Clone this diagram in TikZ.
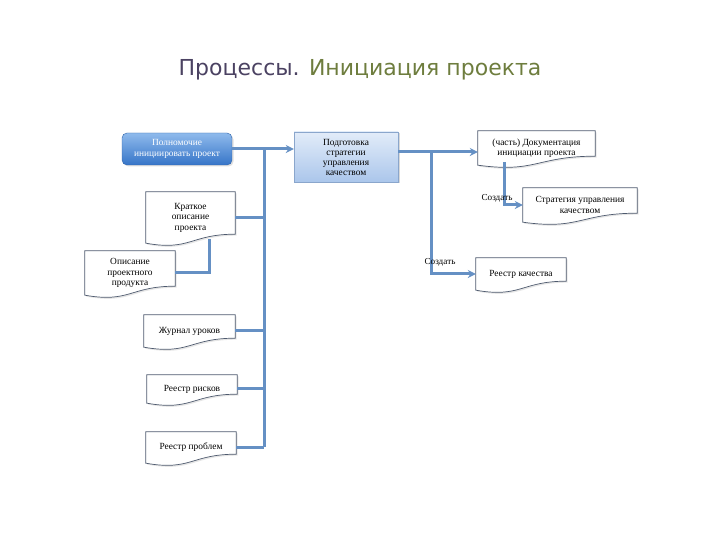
\documentclass[tikz,border=0pt]{standalone}
\usepackage{fontspec}
\setmainfont{Liberation Serif}
\newfontfamily\titlefont{DejaVu Sans}
\usepackage{tikz}
\usetikzlibrary{calc}
\usetikzlibrary{positioning}
\usetikzlibrary{arrows.meta}
\usetikzlibrary{shadows}
\usetikzlibrary{backgrounds}
\definecolor{linkblue}{HTML}{6590C4}
\definecolor{titlegrey}{HTML}{4B4262}
\definecolor{titlegreen}{HTML}{6E7D3E}
\definecolor{authtop}{HTML}{8FBAEC}
\definecolor{authbot}{HTML}{3675C8}
\definecolor{preptop}{HTML}{E2ECF9}
\definecolor{prepbot}{HTML}{ABC6EB}
\definecolor{prepdraw}{HTML}{8AA6CC}
\definecolor{docdraw}{HTML}{4E5A6E}

\begin{document}
\begin{tikzpicture}[
		x=1pt,y=1pt,
		auth/.style={rectangle,rounded corners=5pt,draw=authbot!85!black,
			top color=authtop,bottom color=authbot,text=white,
			font=\fontsize{9.4}{10.5}\selectfont,align=center,
			minimum width=110,minimum height=32,inner sep=1pt,
			drop shadow={opacity=0.25,shadow xshift=1.5pt,shadow yshift=-1.5pt}},
		prep/.style={rectangle,draw=prepdraw,top color=preptop,bottom color=prepbot,
			font=\fontsize{9.4}{10}\selectfont,align=center,
			minimum width=104,minimum height=50,inner sep=1pt,
			drop shadow={opacity=0.3,shadow xshift=1.5pt,shadow yshift=-1.5pt}},
		doc/.style={rectangle,inner sep=1pt,font=\fontsize{9.4}{10.5}\selectfont,align=center},
		docline/.style={draw=docdraw,line width=0.7pt,fill=white,
			drop shadow={opacity=0.2,shadow xshift=1.5pt,shadow yshift=-1.5pt}},
		link/.style={draw=linkblue,line width=3pt},
		arrowlink/.style={link,-{Stealth[length=8pt,width=8pt]}},
		note/.style={font=\fontsize{9.2}{10}\selectfont,inner sep=1pt}
		]
		
		% Page frame, 720 x 540
		\useasboundingbox (0,0) rectangle (720,540);
		
		% Heading
		\node (title) at (360,470) {\titlefont\fontsize{22}{25}\selectfont
			\textcolor{titlegrey}{Процессы.} \textcolor{titlegreen}{Инициация проекта}};
		
		% Process boxes
		\node[auth] (auth) at (177,391) {Полномочие\\инициировать проект};
		\node[prep] (prep) at (346,383) {Подготовка\\стратегии\\управления\\качеством};
		
		% Inputs (documents, left)
		\node[doc,minimum width=89,minimum height=51] (brief)   at (190.5,322.5) {Краткое\\описание\\проекта};
		\node[doc,minimum width=90,minimum height=44] (prod)    at (130,267)     {Описание\\проектного\\продукта};
		\node[doc,minimum width=91,minimum height=32] (lessons) at (189.5,209)   {Журнал уроков};
		\node[doc,minimum width=90,minimum height=28] (risks)   at (192,151)     {Реестр рисков};
		\node[doc,minimum width=90,minimum height=31] (issues)  at (191,92.5)    {Реестр проблем};
		
		% Outputs (documents, right)
		\node[doc,minimum width=117,minimum height=34] (pid)    at (536.5,392) {(часть) Документация\\инициации проекта};
		\node[doc,minimum width=114,minimum height=34] (qstrat) at (580,335)   {Стратегия управления\\качеством};
		\node[doc,minimum width=90,minimum height=32]  (qreg)   at (521,266)   {Реестр качества};
		
		% Document outlines with wavy bottom
		\begin{scope}[on background layer]
		\foreach \d in {brief,prod,lessons,risks,issues,pid,qstrat,qreg}{
			\path[docline] (\d.south west) -- (\d.north west) -- (\d.north east)
				-- ([yshift=9pt]\d.south east)
				.. controls ([yshift=9pt]\d.south) and ([yshift=-8pt]\d.south) .. (\d.south west) -- cycle;
		}
		\end{scope}
		
		% Collecting line of the inputs
		\coordinate (trunk) at (264,0);
		\draw[arrowlink] (auth.east) -- (auth.east -| prep.west);
		\draw[link] (trunk |- auth.east) -- (trunk |- issues.east);
		\draw[link] (brief.east)   -- (brief.east -| trunk);
		\draw[link] (lessons.east) -- (lessons.east -| trunk);
		\draw[link] (risks.east)   -- (risks.east -| trunk);
		\draw[link] (issues.east)  -- (issues.east -| trunk);
		\draw[link] (prod.east) -| ([xshift=19pt,yshift=4pt]brief.south);
		
		% Outputs
		\coordinate (branch) at (431,0);
		\draw[arrowlink] ([yshift=-4pt]prep.east |- pid.west) -- ([yshift=-4pt]pid.west);
		\draw[arrowlink] ([yshift=-4pt]branch |- pid.west) |- (qreg.west);
		\draw[arrowlink] ([xshift=-32.5pt,yshift=3pt]pid.south) |- (qstrat.west);
		
		% Labels
		\node[note] (make1) at (497,342) {Создать};
		\node[note] (make2) at (440,278) {Создать};
		
	\end{tikzpicture}
\end{document}
